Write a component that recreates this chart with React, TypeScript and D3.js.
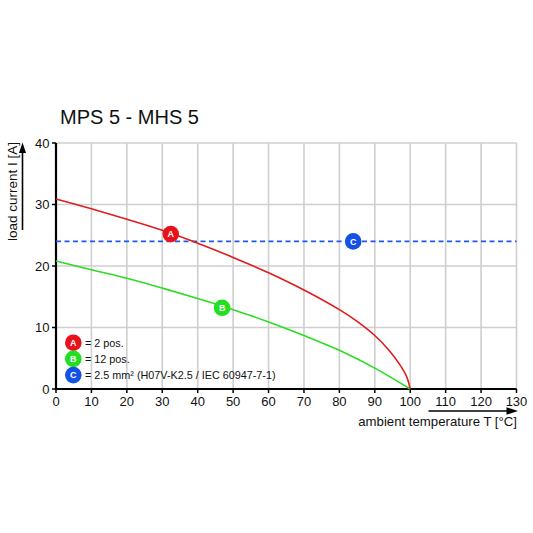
import { useEffect, useRef } from 'react';
import * as d3 from 'd3';

const xTicks = [0, 10, 20, 30, 40, 50, 60, 70, 80, 90, 100, 110, 120, 130];
const yTicks = [0, 10, 20, 30, 40];

// curve A (2 pos.)
const redTemp = [0, 10, 20, 30, 40, 50, 60, 70, 80, 85, 90, 94, 97, 99, 100];
const redCurrent = [30.9, 29.3, 27.6, 25.8, 23.7, 21.4, 18.9, 16.1, 12.9, 11.0, 8.7, 6.3, 4.0, 2.0, 0];

// curve B (12 pos.)
const greenTemp = [0, 10, 20, 30, 40, 50, 60, 70, 80, 90, 100];
const greenCurrent = [20.8, 19.4, 18.0, 16.4, 14.7, 12.9, 10.9, 8.7, 6.3, 3.4, 0];

// line C (conductor limit)
const blueCurrent = 24;

const markers = [
  { label: 'A', t: 32.4, i: 25.2, color: '#e8121b' },
  { label: 'B', t: 46.9, i: 13.2, color: '#22e01f' },
  { label: 'C', t: 83.9, i: 24, color: '#1452e6' },
];

const legendTexts = ['= 2 pos.', '= 12 pos.', '= 2.5 mm² (H07V-K2.5 / IEC 60947-7-1)'];

const W = 533;
const H = 533;

export default function App() {
  const svgRef = useRef<SVGSVGElement>(null);

  useEffect(() => {
    if (!svgRef.current) return;
    const svg = d3.select(svgRef.current);
    svg.selectAll('*').remove();

    const font = 'Liberation Sans, Arial, sans-serif';
    const x = d3.scaleLinear().domain([0, 130]).range([56, 516.5]);
    const y = d3.scaleLinear().domain([0, 40]).range([389, 143]);

    svg.append('rect').attr('width', W).attr('height', H).attr('fill', '#fff');

    // title
    svg.append('text')
      .attr('x', 60).attr('y', 123.5)
      .attr('font-family', font).attr('font-size', 20)
      .attr('fill', '#111')
      .text('MPS 5 - MHS 5');

    // grid
    const grid = svg.append('g').attr('stroke', '#cfcfcf').attr('stroke-width', 1.6);
    xTicks.slice(1).forEach(t => {
      grid.append('line').attr('x1', x(t)).attr('x2', x(t)).attr('y1', y(0)).attr('y2', y(40));
    });
    yTicks.slice(1).forEach(t => {
      grid.append('line').attr('x1', x(0)).attr('x2', x(130)).attr('y1', y(t)).attr('y2', y(t));
    });

    // axes
    svg.append('line').attr('x1', x(0)).attr('x2', x(0)).attr('y1', y(0) + 1).attr('y2', y(40))
      .attr('stroke', '#000').attr('stroke-width', 2.2);
    svg.append('line').attr('x1', x(0) - 1).attr('x2', x(130)).attr('y1', y(0)).attr('y2', y(0))
      .attr('stroke', '#000').attr('stroke-width', 2.2);

    xTicks.forEach(t => {
      svg.append('line').attr('x1', x(t)).attr('x2', x(t)).attr('y1', y(0)).attr('y2', y(0) + 4)
        .attr('stroke', '#000').attr('stroke-width', 1.5);
      svg.append('text')
        .attr('x', x(t)).attr('y', 405.5)
        .attr('text-anchor', 'middle')
        .attr('font-family', font).attr('font-size', 13).attr('fill', '#111')
        .text(t);
    });
    yTicks.forEach(t => {
      svg.append('line').attr('x1', x(0) - 4).attr('x2', x(0)).attr('y1', y(t)).attr('y2', y(t))
        .attr('stroke', '#000').attr('stroke-width', 1.5);
      svg.append('text')
        .attr('x', 49.5).attr('y', y(t) + 4.7)
        .attr('text-anchor', 'end')
        .attr('font-family', font).attr('font-size', 13).attr('fill', '#111')
        .text(t);
    });

    // axis titles with arrows
    svg.append('text')
      .attr('transform', 'translate(16.5,191.5) rotate(-90)')
      .attr('text-anchor', 'middle')
      .attr('font-family', font).attr('font-size', 13.5).attr('fill', '#111')
      .text('load current I [A]');
    svg.append('line').attr('x1', 22.5).attr('x2', 22.5).attr('y1', 230).attr('y2', 150)
      .attr('stroke', '#000').attr('stroke-width', 1.6);
    svg.append('path').attr('d', 'M22.5,142.5 L19,153 L26,153 Z').attr('fill', '#000');

    svg.append('text')
      .attr('x', 517).attr('y', 425.5)
      .attr('text-anchor', 'end')
      .attr('font-family', font).attr('font-size', 13.2).attr('fill', '#111')
      .text('ambient temperature T [°C]');
    svg.append('line').attr('x1', 428.5).attr('x2', 508).attr('y1', 411).attr('y2', 411)
      .attr('stroke', '#000').attr('stroke-width', 1.6);
    svg.append('path').attr('d', 'M518,411 L506.5,407.3 L506.5,414.7 Z').attr('fill', '#000');

    // conductor limit
    svg.append('line')
      .attr('x1', x(0)).attr('x2', x(130)).attr('y1', y(blueCurrent)).attr('y2', y(blueCurrent))
      .attr('stroke', '#1d5ae8').attr('stroke-width', 1.6).attr('stroke-dasharray', '5,3.5');

    const line = d3.line<[number, number]>()
      .x(d => x(d[0]))
      .y(d => y(d[1]))
      .curve(d3.curveCatmullRom.alpha(0.5));

    svg.append('path')
      .datum(greenTemp.map((t, i) => [t, greenCurrent[i]] as [number, number]))
      .attr('d', line)
      .attr('fill', 'none').attr('stroke', '#2bdc22').attr('stroke-width', 1.6);
    svg.append('path')
      .datum(redTemp.map((t, i) => [t, redCurrent[i]] as [number, number]))
      .attr('d', line)
      .attr('fill', 'none').attr('stroke', '#e01b1b').attr('stroke-width', 1.6);

    const badge = (cx: number, cy: number, m: typeof markers[number]) => {
      svg.append('circle').attr('cx', cx).attr('cy', cy).attr('r', 8.3).attr('fill', m.color);
      svg.append('text')
        .attr('x', cx).attr('y', cy + 3.3)
        .attr('text-anchor', 'middle')
        .attr('font-family', font).attr('font-size', 9).attr('font-weight', 'bold')
        .attr('fill', '#fff')
        .text(m.label);
    };

    markers.forEach(m => badge(x(m.t), y(m.i), m));

    // legend
    markers.forEach((m, i) => {
      const cy = 342.7 + i * 16.2;
      badge(73.3, cy, m);
      svg.append('text')
        .attr('x', 85).attr('y', cy + 4)
        .attr('font-family', font).attr('font-size', 10.8).attr('fill', '#111')
        .text(legendTexts[i]);
    });
  }, []);

  return <svg ref={svgRef} width={W} height={H} style={{ position: 'absolute', left: 0, top: 0 }} />;
}
